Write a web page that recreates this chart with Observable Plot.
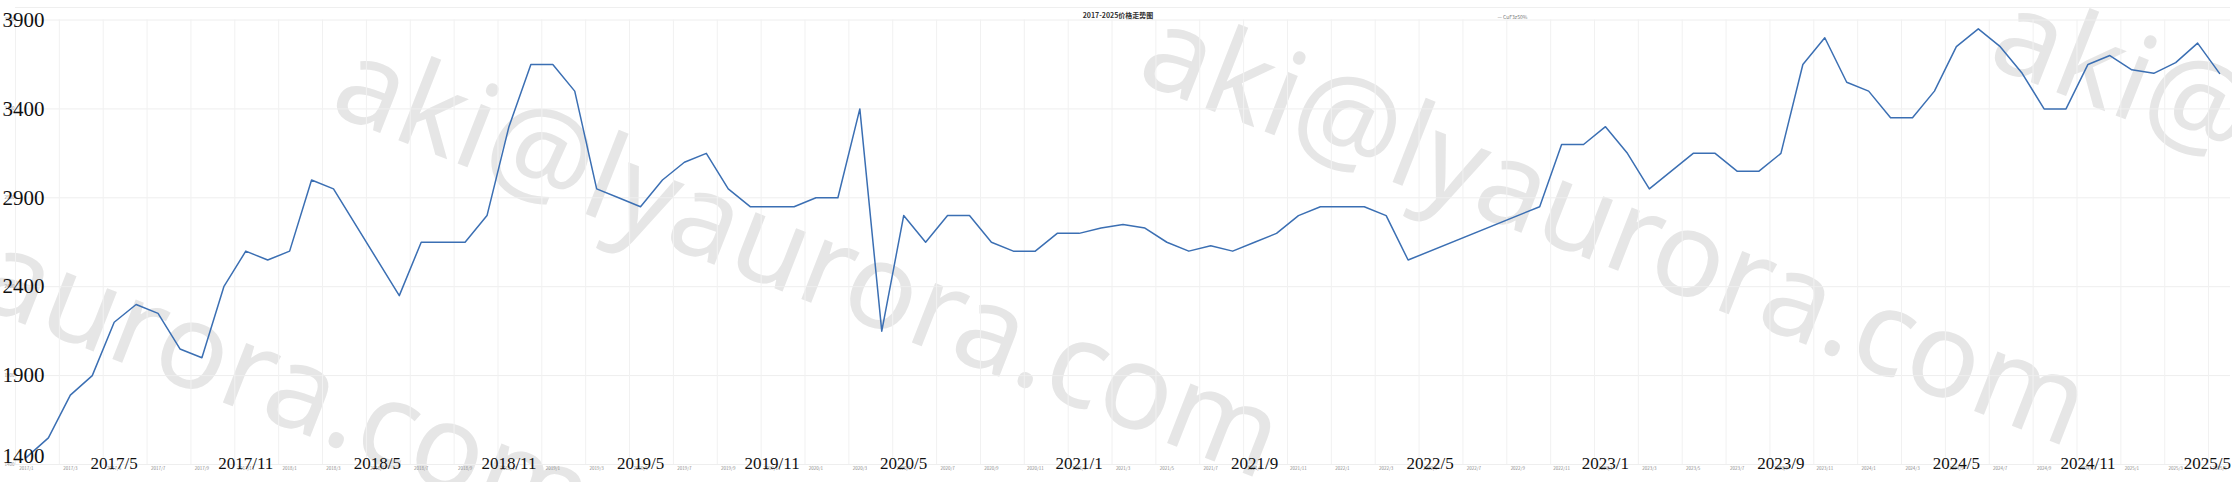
<!DOCTYPE html>
<html><head><meta charset="utf-8">
<script src="https://cdn.jsdelivr.net/npm/d3@7"></script>
<script src="https://cdn.jsdelivr.net/npm/@observablehq/plot@0.6"></script>
<style>html,body{margin:0;padding:0;background:#fff;overflow:hidden} svg{display:block}</style>
</head><body><div id="chart"></div>
<script>
const title = "2017-2025价格走势图";
const seriesName = "CuF3z50%";
const watermark = "aki@lyaurora.com";

// monthly categories 2017/1 .. 2025/5
const months = [];
for (let y = 2017; y <= 2025; y++) for (let m = 1; m <= 12; m++) { if (y === 2025 && m > 5) break; months.push(`${y}/${m}`); }

// price per month (null = no vertex visible)
const prices = [
  1440, 1550, 1790, 1900, 2200, 2300, 2250, 2050, 2000, 2400, 2600, 2550, // 2017
  2600, 3000, 2950, null, null, 2350, 2650, 2650, 2650, 2800, 3300, 3650, // 2018
  3650, 3500, 2950, 2900, 2850, 3000, 3100, 3150, 2950, 2850, 2850, 2850, // 2019
  2900, 2900, 3400, 2150, 2800, 2650, 2800, 2800, 2650, 2600, 2600, 2700, // 2020
  2700, 2730, 2750, 2730, 2650, 2600, 2630, 2600, 2650, 2700, 2800, 2850, // 2021
  2850, 2850, 2800, 2550, null, null, null, null, null, 2850, 3200, 3200, // 2022
  3300, 3150, 2950, 3050, 3150, 3150, 3050, 3050, 3150, 3650, 3800, 3550, // 2023
  3500, 3350, 3350, 3500, 3750, 3850, 3750, 3600, 3400, 3400, 3650, 3700, // 2024
  3620, 3600, 3660, 3770, 3600                                            // 2025
];

const yTicks = [1400, 1900, 2400, 2900, 3400, 3900];
const smallTicks = months.filter((d, i) => i % 2 === 0);
const bigLabels = ["2017/5","2017/11","2018/5","2018/11","2019/5","2019/11","2020/5","2021/1","2021/9","2022/5","2023/1","2023/9","2024/5","2024/11"];
const lastBigLabel = ["2025/5"];

const data = months.map((m, i) => ({month: m, price: prices[i]})).filter(d => d.price != null);

const W = 2232, H = 482, mL = 15, mR = 2, mT = 19.5, mB = 18;
const step = (W - mL - mR) / months.length;
const serif = "'Liberation Serif', 'DejaVu Serif', serif";
const sans = "'Noto Sans CJK SC', 'Noto Sans', sans-serif";
const str = d => String(d);

const chart = Plot.plot({
  width: W, height: H,
  marginLeft: mL, marginRight: mR, marginTop: mT, marginBottom: mB,
  x: {type: "point", domain: months, padding: 0.5, axis: null},
  y: {domain: [1400, 3900], axis: null},
  style: {background: "#fff", fontFamily: sans},
  marks: [
    Plot.ruleY([3900], {dy: -12.5, stroke: "#efefef"}),
    Plot.ruleY(yTicks, {stroke: "#eeeeee", strokeWidth: 1}),
    Plot.ruleX(smallTicks, {x: d => d, dx: -step / 2, stroke: "#f1f1f1", strokeWidth: 1}),
    Plot.line(data, {x: "month", y: "price", stroke: "#3b6fb3", strokeWidth: 1.5}),
    // small original tick labels
    Plot.text(smallTicks, {x: d => d, text: str, frameAnchor: "bottom", dy: 5, fontSize: 4.5, fill: "#8a8a8a"}),
    Plot.text(yTicks, {y: d => d, text: str, frameAnchor: "left", textAnchor: "end", dx: -1, fontSize: 4.5, fill: "#999"}),
    // large serif overlay labels
    Plot.text(bigLabels, {x: d => d, text: str, frameAnchor: "bottom", dy: 4, fontSize: 17, fontFamily: serif, fill: "#111"}),
    Plot.text(lastBigLabel, {x: d => d, text: str, frameAnchor: "bottom", dy: 4, dx: step / 2 + 0.5, textAnchor: "end", fontSize: 17, fontFamily: serif, fill: "#111"}),
    Plot.text(yTicks.filter(d => d !== 1400), {y: d => d, text: str, frameAnchor: "left", textAnchor: "start", dx: -13, fontSize: 21, fontFamily: serif, fill: "#111"}),
    Plot.text([1400], {y: d => d, text: str, frameAnchor: "left", textAnchor: "start", dx: -13, dy: -8, fontSize: 21, fontFamily: serif, fill: "#111"}),
    // title and legend
    Plot.text([title], {frameAnchor: "top", dy: -6.5, dx: -5, fontSize: 7, fontWeight: "bold", fill: "#333"}),
    Plot.text(["— " + seriesName], {frameAnchor: "top-left", textAnchor: "start", dx: 1482, dy: -4.5, fontSize: 5, fill: "#777"})
  ]
});

document.getElementById("chart").append(chart);

// watermark, beneath the marks
const svg = d3.select(chart);
const wm = svg.insert("g", "g");
const wmPos = [[-362, 172], [327, 112], [1134, 80], [1985, 64]];
wmPos.forEach(([x, y]) => {
  wm.append("text")
    .attr("transform", `translate(${x},${y}) rotate(21.5)`)
    .attr("text-anchor", "start")
    .attr("font-family", "'Noto Sans', sans-serif")
    .attr("font-size", 119)
    .attr("fill", "#e6e6e6")
    .text(watermark);
});
</script>
</body></html>
